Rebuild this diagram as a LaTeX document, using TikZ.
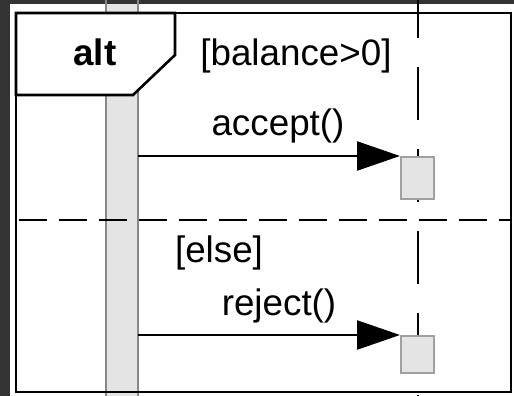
\documentclass[tikz,border=0pt]{standalone}
\usepackage{fontspec}
\setmainfont{Liberation Sans}
\usetikzlibrary{arrows.meta}
\definecolor{bgdark}{HTML}{333333}
\definecolor{barfill}{HTML}{E4E4E4}
\definecolor{bargray}{HTML}{888888}

\begin{document}
\begin{tikzpicture}[x=0.5pt, y=-0.5pt,
    txt/.style={font=\fontsize{18.4}{21}\selectfont, inner sep=0pt, anchor=base},
    frameline/.style={line width=1.3pt, black},
    barline/.style={line width=1pt, bargray},
    lifeline/.style={line width=1.4pt, dash pattern=on 26.5pt off 14.5pt, dash phase=7.5pt},
    separator/.style={line width=1.3pt, dash pattern=on 14pt off 6pt, dash phase=18.5pt},
    msg/.style={-{Triangle[length=21.5pt,width=14.5pt]}, line width=1.2pt},
    actbox/.style={draw=bargray!80, line width=1pt, fill=barfill, anchor=north west,
        inner sep=0pt, minimum width=16.5pt}]
        % Background
        \useasboundingbox (0,0) rectangle (514,396);
        \fill[bgdark] (0,0) rectangle (514,396);
        \fill[white] (10,4) rectangle (514,396);

        % Activation bar of the caller
        \fill[barfill] (106,4) rectangle (138,396);
        \draw[barline] (106,0) -- (106,396);
        \draw[barline] (138,0) -- (138,396);

        % Lifeline of the callee
        \draw[lifeline] (418,0) -- (418,396);

        % Combined fragment
        \draw[frameline] (16,13) rectangle (511,392);
        \draw[frameline, fill=white] (16,13) -- (175,13) -- (175,55) -- (133,95) -- (16,95) -- cycle;
        \draw[separator] (16,220) -- (511,220);

        % Labels
        \node[txt, font=\fontsize{18.4}{21}\selectfont\bfseries] (alt) at (95,65) {alt};
        \node[txt] (guard1) at (296,65) {[balance>0]};
        \node[txt] (guard2) at (219,262) {[else]};
        \node[txt] (lbl1) at (278,135) {accept()};
        \node[txt] (lbl2) at (279,315) {reject()};

        % Activation boxes
        \node[actbox, minimum height=21pt] (box1) at (400,156) {};
        \node[actbox, minimum height=18.5pt] (box2) at (400,335) {};

        % Messages
        \coordinate (src1) at (138,156);
        \coordinate (src2) at (138,335);
        \draw[msg] (src1) -- (box1.north west);
        \draw[msg] (src2) -- (box2.north west);
    \end{tikzpicture}
\end{document}
